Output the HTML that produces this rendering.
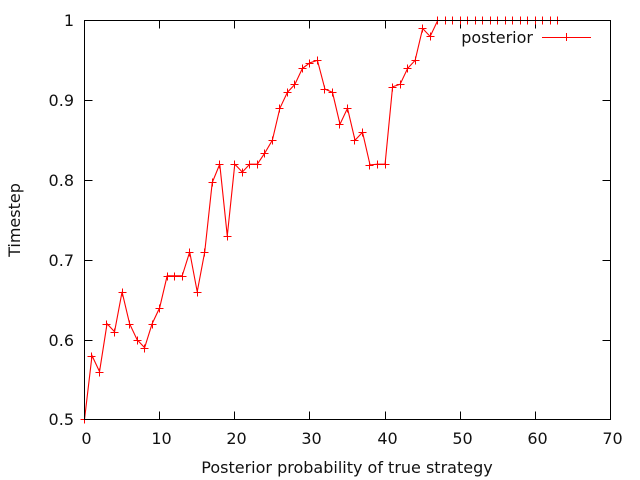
<!DOCTYPE html>
<html>
<head>
<meta charset="utf-8">
<title>Posterior chart</title>
<style>
html,body{margin:0;padding:0;background:#fff;}
svg{display:block;}
text{font-family:"DejaVu Sans","Liberation Sans",sans-serif;font-size:16px;fill:#111;}
</style>
</head>
<body>
<svg id="chart" width="640" height="480" viewBox="0 0 640 480" xmlns="http://www.w3.org/2000/svg">
<rect x="0" y="0" width="640" height="480" fill="#fff"/>
<g id="ticks"></g>
<g id="labels"></g>
<polyline id="line" fill="none" stroke="#ff0000" stroke-width="1.1"/>
<g id="points"></g>
<rect x="84.5" y="20.5" width="526" height="399" fill="none" stroke="#000" stroke-width="1"/>
<text x="0" y="0" text-anchor="middle" transform="translate(20 220) rotate(-90)">Timestep</text>
<text x="347" y="473" text-anchor="middle">Posterior probability of true strategy</text>
<g>
<text x="533" y="43" text-anchor="end">posterior</text>
<line x1="542" y1="37.5" x2="591" y2="37.5" stroke="#ff0000" stroke-width="1"/>
<path d="M562.5 37.5h8M566.5 33v8" stroke="#ff0000" stroke-width="1" fill="none"/>
</g>
</svg>
<script>
const xValues = [0,1,2,3,4,5,6,7,8,9,10,11,12,13,14,15,16,17,18,19,20,21,22,23,24,25,26,27,28,29,30,31,32,33,34,35,36,37,38,39,40,41,42,43,44,45,46,47,48,49,50,51,52,53,54,55,56,57,58,59,60,61,62,63];
const posteriorValues = [0.5,0.58,0.56,0.62,0.61,0.66,0.62,0.6,0.59,0.62,0.64,0.68,0.68,0.68,0.71,0.66,0.71,0.797,0.82,0.73,0.82,0.81,0.82,0.82,0.834,0.85,0.89,0.91,0.92,0.94,0.947,0.95,0.914,0.91,0.87,0.89,0.85,0.86,0.819,0.82,0.82,0.917,0.92,0.94,0.95,0.99,0.98,1,1,1,1,1,1,1,1,1,1,1,1,1,1,1,1,1];
const xTicks = [0,10,20,30,40,50,60,70];
const yTicks = [0.5,0.6,0.7,0.8,0.9,1];
const yTickLabels = ["0.5","0.6","0.7","0.8","0.9","1"];

const NS = "http://www.w3.org/2000/svg";
const left = 84.5, right = 610.5, top_ = 20.5, bottom = 419.5;
const xMin = 0, xMax = 70, yMin = 0.5, yMax = 1;
function xScale(v){ return left + (v - xMin) / (xMax - xMin) * (right - left); }
function yScale(v){ return bottom - (v - yMin) / (yMax - yMin) * (bottom - top_); }
function snapX(v){ return Math.floor(v - 0.06) + 0.5; }
function snapY(v){ return Math.floor(v + 0.499) + 0.5; }

const tickGroup = document.getElementById("ticks");
const labelGroup = document.getElementById("labels");
function tickLine(x1, y1, x2, y2, name){
  const l = document.createElementNS(NS, "line");
  l.setAttribute("x1", x1);
  l.setAttribute("y1", y1);
  l.setAttribute("x2", x2);
  l.setAttribute("y2", y2);
  l.setAttribute("stroke", "#000");
  l.setAttribute("stroke-width", "1");
  
  
  tickGroup.appendChild(l);
}
xTicks.forEach(function(t){
  const x = snapX(xScale(t));
  tickLine(x, bottom, x, bottom - 8, "x-tick");
  tickLine(x, top_, x, top_ + 8, "x-tick-top");
  const s = document.createElementNS(NS, "text");
  s.setAttribute("x", x + 2);
  s.setAttribute("y", 444);
  s.setAttribute("text-anchor", "middle");
  
  
  s.textContent = String(t);
  labelGroup.appendChild(s);
});
yTicks.forEach(function(t, i){
  const y = snapY(yScale(t));
  tickLine(left, y, left + 8, y, "y-tick");
  tickLine(right, y, right - 8, y, "y-tick-right");
  const s = document.createElementNS(NS, "text");
  s.setAttribute("x", 74);
  s.setAttribute("y", y + 5.5);
  s.setAttribute("text-anchor", "end");
  
  
  s.textContent = yTickLabels[i];
  labelGroup.appendChild(s);
});

document.getElementById("line").setAttribute("points",
  posteriorValues.map(function(v, i){ return xScale(xValues[i]) + "," + yScale(v); }).join(" "));

const pointGroup = document.getElementById("points");
posteriorValues.forEach(function(v, i){
  const cx = snapX(xScale(xValues[i])), cy = snapY(yScale(v));
  const p = document.createElementNS(NS, "path");
  p.setAttribute("d", "M" + (cx - 4) + " " + cy + "H" + (cx + 4) + "M" + cx + " " + (cy - 4) + "V" + (cy + 4));
  p.setAttribute("stroke", "#ff0000");
  p.setAttribute("stroke-width", "1");
  p.setAttribute("fill", "none");
  
  
  pointGroup.appendChild(p);
});
</script>
</body>
</html>
